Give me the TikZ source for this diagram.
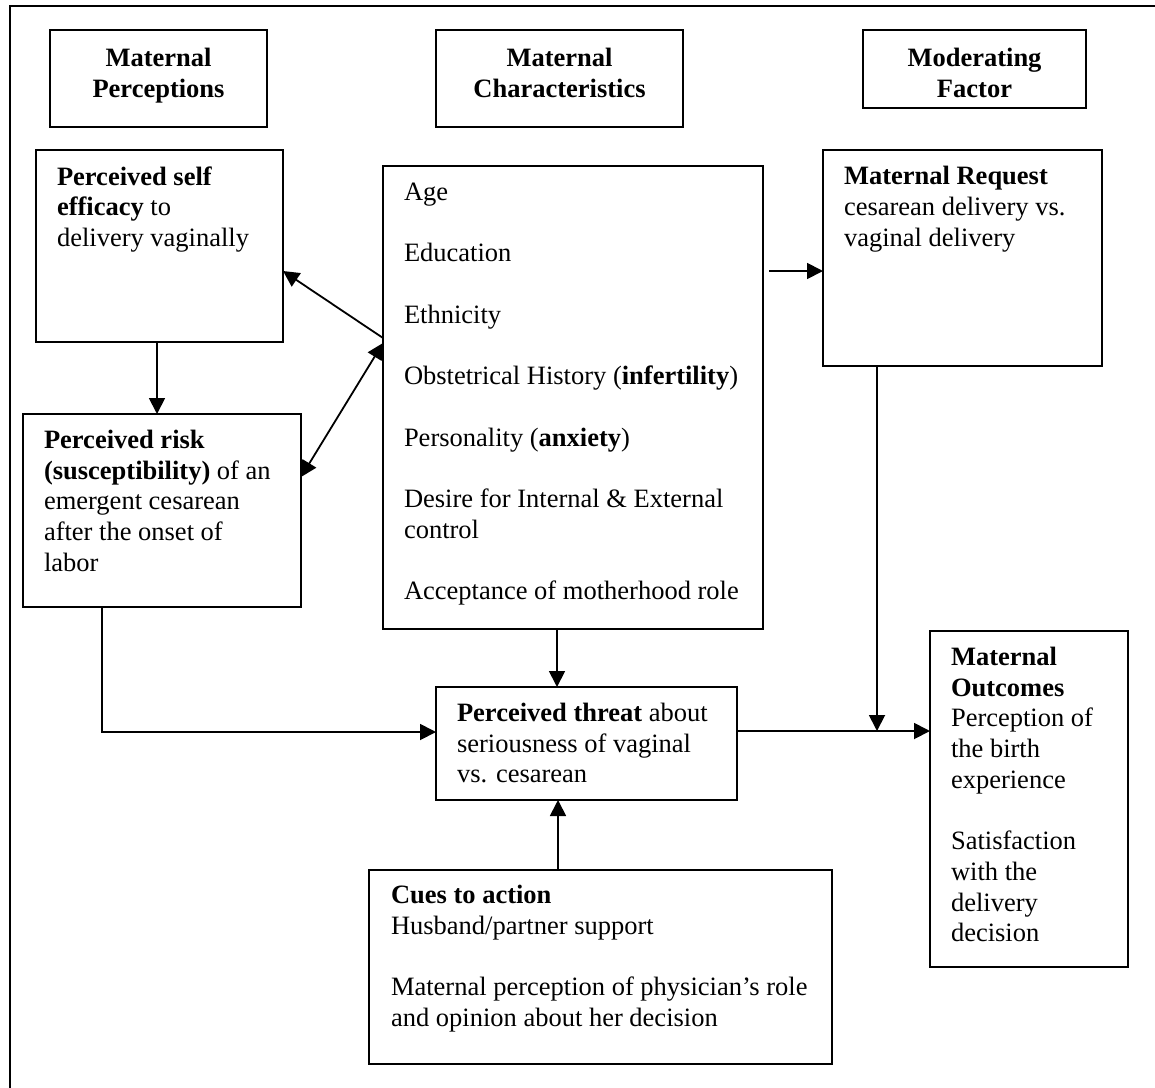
\documentclass[tikz,border=0pt]{standalone}
\usepackage{fontspec}
\setmainfont{Liberation Serif}
\usetikzlibrary{arrows.meta,calc}
\begin{document}
\begin{tikzpicture}[x=1pt,y=-1pt,
  box/.style={draw, line width=1.8pt, inner sep=0pt, outer sep=0pt, anchor=north west},
  txt/.style={inner sep=0pt, outer sep=0pt, anchor=north west, align=left, font=\fontsize{26.5}{30.7}\selectfont, execute at begin node=\strut},
  hdr/.style={txt, anchor=north, align=center, font=\bfseries\fontsize{26.5}{30.7}\selectfont},
  arr/.style={line width=1.8pt, -{Triangle[length=16pt,width=16pt]}},
  darr/.style={line width=1.8pt, {Triangle[length=16pt,width=16pt]}-{Triangle[length=16pt,width=16pt]}},
  conn/.style={line width=1.8pt}
]
\useasboundingbox (0,0) rectangle (1155,1087);
% outer frame (cut by the page on the right and bottom)
\draw[line width=2.2pt] (1160,6) -- (10,6) -- (10,1092);

% boxes
\node[box, minimum width=217pt, minimum height=97pt] (h1) at (50,30) {};
\node[box, minimum width=247pt, minimum height=97pt] (h2) at (436,30) {};
\node[box, minimum width=223pt, minimum height=78pt] (h3) at (863,30) {};
\node[box, minimum width=247pt, minimum height=192pt] (se) at (36,150) {};
\node[box, minimum width=380pt, minimum height=463pt] (chr) at (383,166) {};
\node[box, minimum width=279pt, minimum height=216pt] (req) at (823,150) {};
\node[box, minimum width=278pt, minimum height=193pt] (rsk) at (23,414) {};
\node[box, minimum width=301pt, minimum height=113pt] (thr) at (436,687) {};
\node[box, minimum width=198pt, minimum height=336pt] (out) at (930,631) {};
\node[box, minimum width=463pt, minimum height=194pt] (cue) at (369,870) {};

% texts
\node[hdr] (h1t) at (158.5,48.5) {Maternal\\Perceptions};
\node[hdr] (h2t) at (559.5,48.5) {Maternal\\Characteristics};
\node[hdr] (h3t) at (974.5,48.5) {Moderating\\Factor};

\node[txt] (set) at (57,166.5) {\textbf{Perceived self}\\\textbf{efficacy} to\\delivery vaginally};
\node[txt] (chrt) at (404,183) {Age\\[30.7pt]Education\\[30.7pt]Ethnicity\\[30.7pt]Obstetrical History (\textbf{infertility})\\[30.7pt]Personality (\textbf{anxiety})\\[30.7pt]Desire for Internal \& External\\control\\[30.7pt]Acceptance of motherhood role};
\node[txt] (reqt) at (844,166.5) {\textbf{Maternal Request}\\cesarean delivery vs.\\vaginal delivery};
\node[txt] (rskt) at (44,430) {\textbf{Perceived risk}\\\textbf{(susceptibility)} of an\\emergent cesarean\\after the onset of\\labor};
\node[txt] (thrt) at (457,703) {\textbf{Perceived threat} about\\seriousness of vaginal\\vs. cesarean};
\node[txt] (cuet) at (391,885) {\textbf{Cues to action}\\Husband/partner support\\[30.7pt]Maternal perception of physician’s role\\and opinion about her decision};
\node[txt] (outt) at (951,647) {\textbf{Maternal}\\\textbf{Outcomes}\\Perception of\\the birth\\experience\\[30.7pt]Satisfaction\\with the\\delivery\\decision};

% connectors
\coordinate (j) at (877,731);
\draw[arr] (chr.west |- 0,338) -- (se.east |- 0,271);
\draw[darr] (chr.west |- 0,343) -- (rsk.east |- 0,477);
\draw[arr] ([xshift=6pt]chr.east |- 0,271) -- (req.west |- 0,271);
\draw[arr] (se.south -| 157,0) -- (rsk.north -| 157,0);
\draw[arr] (rsk.south -| 102,0) |- (thr.west |- 0,732);
\draw[arr] (chr.south -| 557,0) -- (thr.north -| 557,0);
\draw[arr] (cue.north -| 558,0) -- (thr.south -| 558,0);
\draw[arr] (thr.east |- j) -- (out.west |- j);
\draw[arr] (req.south -| j) -- (j);
\end{tikzpicture}
\end{document}
